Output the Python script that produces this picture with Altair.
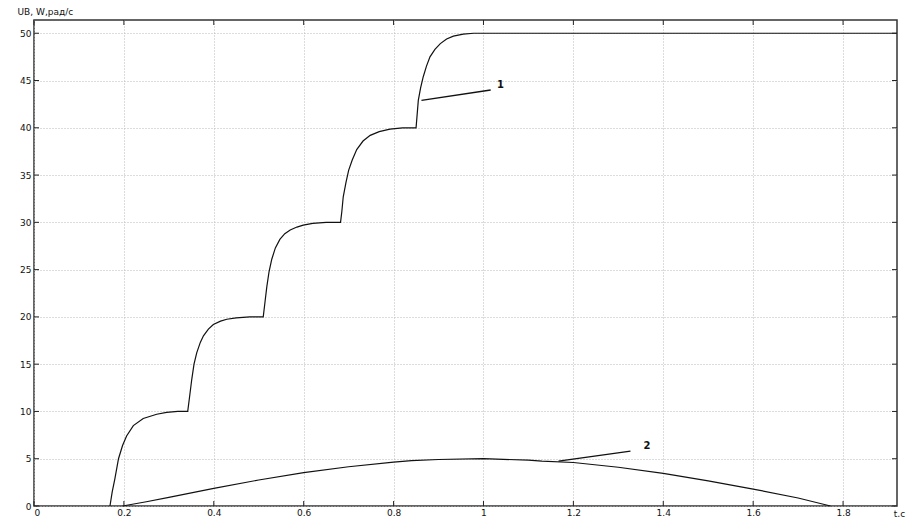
import altair as alt
import pandas as pd

# Curve 1: angular speed W (rad/s), stepwise
c1_t = [0.169, 0.174, 0.180, 0.188, 0.197, 0.206, 0.221, 0.243, 0.273, 0.295, 0.32, 0.342,
        0.346, 0.351, 0.356, 0.362, 0.370, 0.377, 0.388, 0.399, 0.415, 0.429, 0.45, 0.48, 0.510,
        0.514, 0.518, 0.523, 0.529, 0.537, 0.547, 0.558, 0.570, 0.585, 0.599, 0.62, 0.65, 0.682,
        0.685, 0.688, 0.694, 0.700, 0.708, 0.718, 0.732, 0.748, 0.768, 0.792, 0.82, 0.850,
        0.855, 0.860, 0.866, 0.873, 0.881, 0.892, 0.904, 0.918, 0.933, 0.955, 0.978, 1.92]
c1_w = [0.0, 1.5, 2.9, 5.0, 6.4, 7.4, 8.5, 9.25, 9.7, 9.9, 10.0, 10.0,
        11.5, 13.4, 15.0, 16.2, 17.3, 18.0, 18.7, 19.2, 19.55, 19.75, 19.9, 20.0, 20.0,
        21.6, 23.2, 24.8, 26.1, 27.3, 28.2, 28.8, 29.2, 29.5, 29.7, 29.9, 30.0, 30.0,
        31.2, 32.7, 34.2, 35.5, 36.6, 37.7, 38.6, 39.2, 39.6, 39.85, 40.0, 40.0,
        42.9, 44.2, 45.4, 46.5, 47.5, 48.3, 48.9, 49.4, 49.7, 49.9, 50.0, 50.0]

# Curve 2: voltage UB
c2_t = [0.197, 0.25, 0.30, 0.40, 0.50, 0.60, 0.70, 0.80, 0.84, 0.90, 1.00, 1.10, 1.13,
        1.20, 1.30, 1.40, 1.50, 1.60, 1.70, 1.772]
c2_u = [0.0, 0.45, 0.92, 1.87, 2.75, 3.52, 4.15, 4.64, 4.80, 4.92, 5.0, 4.85, 4.74,
        4.6, 4.1, 3.45, 2.65, 1.79, 0.85, 0.0]

# Annotations (leader lines and labels)
lead_id = ["1", "1", "2", "2"]
lead_t = [0.862, 1.016, 1.167, 1.327]
lead_v = [42.9, 44.0, 4.75, 5.8]
lab_text = ["1", "2"]
lab_t = [1.038, 1.364]
lab_v = [44.5, 6.35]

x_ticks = [0, 0.2, 0.4, 0.6, 0.8, 1.0, 1.2, 1.4, 1.6, 1.8]
y_ticks = [0, 5, 10, 15, 20, 25, 30, 35, 40, 45, 50]

W, H = 863, 486
FONT = "DejaVu Sans"

df1 = pd.DataFrame({"t": c1_t, "v": c1_w})
df2 = pd.DataFrame({"t": c2_t, "v": c2_u})
dlead = pd.DataFrame({"id": lead_id, "t": lead_t, "v": lead_v})
dlab = pd.DataFrame({"txt": lab_text, "t": lab_t, "v": lab_v})
dxt = pd.DataFrame({"t": x_ticks})
dyt = pd.DataFrame({"v": y_ticks})

xs = alt.Scale(domain=[0, 1.92], nice=False, zero=False)
ys = alt.Scale(domain=[0, 51.4], nice=False, zero=False)

x_axis = alt.Axis(values=x_ticks, format="~g", grid=True, gridColor="#b8b8b8",
                  gridDash=[1, 2], gridWidth=1, ticks=False, domain=False,
                  labelFont=FONT, labelFontSize=9, labelColor="#111", labelPadding=2,
                  title="t,c", titleFont=FONT, titleFontSize=9, titleFontWeight="normal",
                  titleColor="#111", titleX=W + 2, titleY=7, titleAlign="center",
                  titleBaseline="middle")
y_axis = alt.Axis(values=y_ticks, grid=True, gridColor="#b8b8b8", gridDash=[1, 2],
                  gridWidth=1, ticks=False, domain=False,
                  labelFont=FONT, labelFontSize=9, labelColor="#111", labelPadding=3,
                  title="UB, W,рад/с", titleFont=FONT, titleFontSize=9,
                  titleFontWeight="normal", titleColor="#111", titleAngle=0,
                  titleX=-17, titleY=-9, titleAlign="left", titleBaseline="middle")

line1 = alt.Chart(df1).mark_line(color="#111", strokeWidth=1.2).encode(
    x=alt.X("t:Q", scale=xs, axis=x_axis),
    y=alt.Y("v:Q", scale=ys, axis=y_axis),
)
line2 = alt.Chart(df2).mark_line(color="#111", strokeWidth=1.2).encode(
    x=alt.X("t:Q", scale=xs),
    y=alt.Y("v:Q", scale=ys),
)
leads = alt.Chart(dlead).mark_line(color="#111", strokeWidth=1.4).encode(
    x=alt.X("t:Q", scale=xs),
    y=alt.Y("v:Q", scale=ys),
    detail="id:N",
)
labels = alt.Chart(dlab).mark_text(font=FONT, fontSize=10, fontWeight="bold",
                                   color="#111").encode(
    x=alt.X("t:Q", scale=xs),
    y=alt.Y("v:Q", scale=ys),
    text="txt:N",
)

tk = dict(color="#222", strokeWidth=1)
bot = alt.Chart(dxt).mark_rule(**tk).encode(
    x=alt.X("t:Q", scale=xs), y=alt.value(H), y2=alt.value(H - 5))
top = alt.Chart(dxt).mark_rule(**tk).encode(
    x=alt.X("t:Q", scale=xs), y=alt.value(0), y2=alt.value(5))
left = alt.Chart(dyt).mark_rule(**tk).encode(
    y=alt.Y("v:Q", scale=ys), x=alt.value(0), x2=alt.value(5))
right = alt.Chart(dyt).mark_rule(**tk).encode(
    y=alt.Y("v:Q", scale=ys), x=alt.value(W), x2=alt.value(W - 5))

chart = alt.layer(line1, line2, leads, labels, bot, top, left, right).properties(
    width=W, height=H,
    autosize=alt.AutoSizeParams(type="none"),
    padding={"left": 26, "top": 12, "right": 9, "bottom": 11},
    background="white",
).configure_view(stroke="#333", strokeWidth=1.5)

chart.save("out.html", embed_options={"renderer": "svg", "actions": False})
